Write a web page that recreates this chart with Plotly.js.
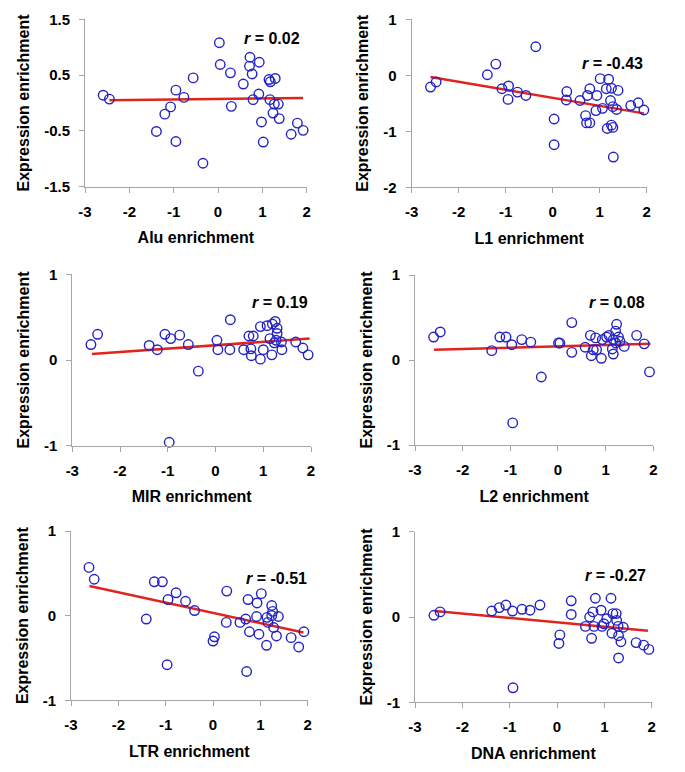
<!DOCTYPE html>
<html>
<head>
<meta charset="utf-8">
<script src="https://cdn.plot.ly/plotly-3.0.1.min.js"></script>
<style>
  html, body { margin: 0; padding: 0; background: #fff; }
  #chart { width: 685px; height: 772px; }
</style>
</head>
<body>
<div id="chart"></div>
<script>
// repeat families
const families = ['Alu', 'L1', 'MIR', 'L2', 'LTR', 'DNA']
const rValues = ['0.02', '-0.43', '0.19', '0.08', '-0.51', '-0.27']

// x = repeat enrichment, y = expression enrichment
const aluX = [-2.59, -2.45, -1.39, -1.20, -1.07, -0.95, -0.77, -0.95, -0.56, -0.34, 0.03, 0.05, 0.28, 0.30, 0.57, 0.72, 0.71, 0.77, 0.93, 0.92, 0.79, 0.98, 1.02, 1.15, 1.18, 1.29, 1.17, 1.27, 1.24, 1.36, 1.38, 1.65, 1.79, 1.92]
const aluY = [0.14, 0.07, -0.51, -0.20, -0.07, 0.23, 0.10, -0.69, 0.45, -1.08, 1.08, 0.69, 0.54, -0.06, 0.34, 0.82, 0.66, 0.52, 0.73, 0.16, 0.06, -0.34, -0.70, 0.42, 0.38, 0.44, 0.06, -0.02, -0.18, -0.02, -0.28, -0.56, -0.36, -0.49]

const l1X = [-2.60, -2.48, -1.39, -1.21, -1.08, -0.94, -0.95, -0.75, -0.57, -0.36, 0.03, 0.03, 0.30, 0.29, 0.58, 0.79, 0.74, 0.70, 0.72, 0.79, 0.94, 0.92, 1.01, 1.06, 1.19, 1.14, 1.25, 1.39, 1.23, 1.28, 1.36, 1.16, 1.25, 1.28, 1.29, 1.66, 1.82, 1.94]
const l1Y = [-0.21, -0.12, 0.01, 0.20, -0.24, -0.19, -0.43, -0.30, -0.36, 0.51, -0.78, -1.24, -0.29, -0.44, -0.45, -0.24, -0.36, -0.72, -0.85, -0.85, -0.36, -0.63, -0.06, -0.59, -0.07, -0.24, -0.23, -0.27, -0.45, -0.56, -0.61, -0.95, -0.89, -0.93, -1.46, -0.54, -0.49, -0.62]

const mirX = [-2.61, -2.47, -1.39, -1.22, -1.06, -0.94, -0.75, -0.57, -0.36, -0.97, 0.03, 0.05, 0.31, 0.30, 0.59, 0.70, 0.79, 0.74, 0.75, 0.94, 0.94, 1.00, 1.08, 1.19, 1.25, 1.29, 1.29, 1.14, 1.27, 1.38, 1.39, 1.18, 1.68, 1.83, 1.94, 1.23]
const mirY = [0.18, 0.30, 0.17, 0.12, 0.30, 0.25, 0.29, 0.18, -0.13, -0.96, 0.23, 0.12, 0.47, 0.12, 0.12, 0.28, 0.28, 0.13, 0.05, 0.39, 0.01, 0.12, 0.40, 0.42, 0.45, 0.37, 0.31, 0.25, 0.23, 0.21, 0.12, 0.06, 0.21, 0.14, 0.06, 0.20]

const l2X = [-2.61, -2.47, -1.39, -1.22, -1.09, -0.97, -0.76, -0.57, -0.35, -0.95, 0.01, 0.04, 0.29, 0.29, 0.57, 0.68, 0.79, 0.70, 0.74, 0.81, 0.91, 0.93, 1.02, 1.07, 1.16, 1.23, 1.21, 1.27, 1.30, 1.39, 1.14, 1.16, 1.65, 1.81, 1.92, 1.21]
const l2Y = [0.27, 0.33, 0.11, 0.27, 0.27, 0.18, 0.24, 0.21, -0.20, -0.74, 0.20, 0.20, 0.44, 0.09, 0.15, 0.29, 0.26, 0.05, 0.12, 0.12, 0.02, 0.24, 0.27, 0.29, 0.24, 0.42, 0.34, 0.27, 0.22, 0.16, 0.13, 0.07, 0.29, 0.19, -0.14, 0.20]

const ltrX = [-2.62, -2.51, -1.41, -1.24, -1.07, -0.95, -0.78, -0.58, -0.39, -0.97, 0.03, 0.00, 0.28, 0.29, 0.57, 0.69, 0.74, 0.77, 0.71, 0.92, 0.93, 1.02, 0.97, 1.14, 1.16, 1.13, 1.24, 1.26, 1.24, 1.28, 1.38, 1.34, 1.65, 1.81, 1.92]
const ltrY = [0.57, 0.43, -0.04, 0.40, 0.40, 0.19, 0.27, 0.17, 0.06, -0.58, -0.25, -0.30, -0.08, 0.29, -0.08, -0.04, 0.19, -0.19, -0.66, -0.01, 0.15, 0.26, -0.22, -0.02, -0.08, -0.35, 0.12, 0.05, 0.00, -0.14, -0.01, -0.24, -0.26, -0.37, -0.19]

const dnaX = [-2.60, -2.47, -1.38, -1.22, -1.08, -0.94, -0.74, -0.57, -0.36, -0.93, 0.06, 0.04, 0.30, 0.30, 0.60, 0.69, 0.76, 0.81, 0.73, 0.78, 0.93, 0.95, 0.99, 1.05, 1.14, 1.18, 1.25, 1.26, 1.16, 1.29, 1.30, 1.35, 1.40, 1.30, 1.67, 1.83, 1.94]
const dnaY = [0.02, 0.06, 0.07, 0.11, 0.14, 0.07, 0.09, 0.08, 0.14, -0.83, -0.21, -0.31, 0.19, 0.03, -0.11, 0.00, 0.06, 0.22, -0.25, -0.11, 0.08, -0.11, -0.08, -0.02, 0.22, 0.04, 0.04, -0.04, -0.19, -0.11, -0.22, -0.29, -0.12, -0.48, -0.30, -0.33, -0.38]

// regression line end points
const aluFitX = [-2.45, 1.92], aluFitY = [0.05, 0.09]
const l1FitX = [-2.60, 1.94], l1FitY = [-0.03, -0.68]
const mirFitX = [-2.59, 1.97], mirFitY = [0.07, 0.25]
const l2FitX = [-2.60, 1.94], l2FitY = [0.12, 0.19]
const ltrFitX = [-2.61, 1.91], ltrFitY = [0.35, -0.20]
const dnaFitX = [-2.58, 1.92], dnaFitY = [0.07, -0.16]

// tick labels
const xTicks = [-3, -2, -1, 0, 1, 2]
const xTickText = ['-3', '-2', '-1', '0', '1', '2']
const aluYTicks = [-1.5, -0.5, 0.5, 1.5]
const aluYTickText = ['-1.5', '-0.5', '0.5', '1.5']
const l1YTicks = [-2, -1, 0, 1]
const l1YTickText = ['-2', '-1', '0', '1']
const yTicks = [-1, 0, 1]
const yTickText = ['-1', '0', '1']

const pointsX = [aluX, l1X, mirX, l2X, ltrX, dnaX]
const pointsY = [aluY, l1Y, mirY, l2Y, ltrY, dnaY]
const fitsX = [aluFitX, l1FitX, mirFitX, l2FitX, ltrFitX, dnaFitX]
const fitsY = [aluFitY, l1FitY, mirFitY, l2FitY, ltrFitY, dnaFitY]
const yRanges = [[-1.5, 1.5], [-2, 1], [-1, 1], [-1, 1], [-1, 1], [-1, 1]]
const yTickVals = [aluYTicks, l1YTicks, yTicks, yTicks, yTicks, yTicks]
const yTickTexts = [aluYTickText, l1YTickText, yTickText, yTickText, yTickText, yTickText]

// subplot boxes in pixels: [left, right, top, bottom]
const W = 685, H = 772
const boxes = [
    [85, 306.7, 19.3, 186.7],
    [411.7, 646.7, 19.3, 187.3],
    [72.3, 311, 274.3, 445.7],
    [415, 653.3, 275, 445],
    [71, 307.7, 531, 700.3],
    [415, 651.7, 531.7, 702.3],
]
// right edge / middle of the r labels, pixels
const rPos = [[301.7, 38.3], [645, 63.3], [310, 302.7], [646.7, 302.7], [309, 578.3], [648, 575]]

const font = 'Liberation Sans, Arial, Helvetica, sans-serif'
const blue = '#2323c4'
const red = '#e0241e'
const axisGrey = '#a6a6a6'

let data = []
let layout = {
    width: W,
    height: H,
    margin: { l: 0, r: 0, t: 0, b: 0 },
    paper_bgcolor: '#ffffff',
    plot_bgcolor: '#ffffff',
    showlegend: false,
    font: { family: font, color: '#000000' },
    annotations: [],
}

families.forEach((fam, i) => {
    const n = i === 0 ? '' : String(i + 1)
    const [l, r, t, b] = boxes[i]

    data.push({
        type: 'scatter',
        mode: 'lines',
        x: fitsX[i],
        y: fitsY[i],
        xaxis: 'x' + n,
        yaxis: 'y' + n,
        line: { color: red, width: 2.5 },
        hoverinfo: 'skip',
    })
    data.push({
        type: 'scatter',
        mode: 'markers',
        x: pointsX[i],
        y: pointsY[i],
        xaxis: 'x' + n,
        yaxis: 'y' + n,
        cliponaxis: false,
        marker: {
            symbol: 'circle-open',
            size: 9.5,
            color: blue,
            line: { color: blue, width: 1.4 },
        },
        hovertemplate: fam + ' = %{x}<br>expr = %{y}<extra></extra>',
    })

    layout['xaxis' + n] = {
        domain: [l / W, r / W],
        anchor: 'y' + n,
        range: [-3, 2],
        tickmode: 'array',
        tickvals: xTicks,
        ticktext: xTickText,
        showgrid: false,
        zeroline: false,
        showline: true,
        linecolor: axisGrey,
        linewidth: 1,
        ticks: 'outside',
        ticklen: 5,
        tickcolor: axisGrey,
        ticklabelstandoff: 6,
        tickfont: { family: font, size: 15, color: '#000000', weight: 'bold' },
        title: {
            text: fam + ' enrichment',
            font: { family: font, size: 16, color: '#000000', weight: 'bold' },
            standoff: 13,
        },
        fixedrange: true,
    }
    layout['yaxis' + n] = {
        domain: [1 - b / H, 1 - t / H],
        anchor: 'x' + n,
        range: yRanges[i],
        tickmode: 'array',
        tickvals: yTickVals[i],
        ticktext: yTickTexts[i],
        showgrid: false,
        zeroline: false,
        showline: true,
        linecolor: axisGrey,
        linewidth: 1,
        ticks: 'outside',
        ticklen: 5,
        tickcolor: axisGrey,
        ticklabelstandoff: 6,
        tickfont: { family: font, size: 15, color: '#000000', weight: 'bold' },
        title: {
            text: 'Expression enrichment',
            font: { family: font, size: 16, color: '#000000', weight: 'bold' },
            standoff: 10,
        },
        fixedrange: true,
    }

    layout.annotations.push({
        xref: 'paper',
        yref: 'paper',
        x: rPos[i][0] / W,
        y: 1 - rPos[i][1] / H,
        xanchor: 'right',
        yanchor: 'middle',
        showarrow: false,
        text: '<i>r</i> = ' + rValues[i],
        font: { family: font, size: 16, color: '#000000', weight: 'bold' },
    })
})

Plotly.newPlot('chart', data, layout, { displayModeBar: false, staticPlot: true })
</script>
</body>
</html>
